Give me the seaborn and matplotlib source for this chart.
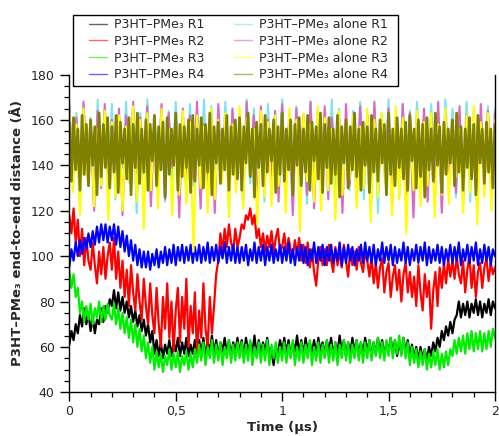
import numpy as np
import pandas as pd
import matplotlib
matplotlib.use("Agg")
import matplotlib.pyplot as plt
import seaborn as sns
from matplotlib.ticker import MultipleLocator, FixedLocator
from matplotlib.patches import Rectangle

# ---------------- data ----------------
# complex series, sampled every 0.01 us
r1_black = [
    61,67,63,70,66,74,69,77,70,75,67,73,66,72,70,77,71,78,75,81,
    78,85,77,84,76,82,75,80,73,78,71,76,69,74,67,72,65,70,62,67,
    57,63,56,62,55,61,57,63,56,62,58,64,56,62,57,64,56,61,57,63,
    56,63,57,64,56,62,58,65,57,63,56,62,58,64,57,63,56,62,58,64,
    57,63,56,64,58,62,57,65,56,63,57,62,58,64,56,58,52,60,57,63,
    58,64,57,63,56,62,58,65,57,63,56,64,58,62,57,63,56,64,58,62,
    57,63,58,64,56,62,57,65,58,63,56,62,57,64,58,63,56,62,57,64,
    58,63,56,62,57,64,58,63,56,62,58,64,57,63,56,62,57,64,58,63,
    56,61,55,60,54,60,55,59,54,60,56,62,58,64,60,67,63,69,65,71,
    66,72,74,80,73,79,74,80,73,79,75,81,74,80,73,79,75,81,74,80,
    77]
r2_red = [
    118,110,121,106,116,100,112,96,108,98,94,106,96,88,102,92,104,90,100,106,
    94,108,90,102,86,98,82,94,78,96,84,76,92,80,72,90,78,70,88,74,
    66,86,70,60,82,68,88,64,80,58,76,86,62,82,68,90,60,78,66,84,
    56,76,64,88,68,60,82,66,78,92,98,110,102,112,104,114,106,102,112,104,
    108,114,112,118,116,121,114,118,108,112,104,110,102,109,104,111,101,108,112,102,
    104,110,101,108,103,100,107,101,108,98,105,97,106,95,103,93,87,99,104,96,
    103,96,105,98,93,104,96,102,95,105,98,91,103,96,102,94,104,97,93,102,
    98,91,100,88,97,86,95,99,84,93,97,82,91,96,85,94,80,92,97,84,
    93,82,91,78,96,84,76,92,82,89,68,85,93,78,95,86,97,88,99,91,
    98,90,100,92,88,98,84,94,100,86,96,82,93,97,86,95,99,89,97,92,
    95]
r3_green = [
    94,86,92,82,86,75,80,71,78,72,79,70,77,73,80,71,78,72,79,74,
    72,79,70,77,68,75,66,73,64,72,62,70,60,68,58,65,55,62,53,60,
    50,58,51,57,49,56,52,59,50,57,51,58,49,56,52,58,50,57,51,59,
    53,61,54,62,52,60,55,63,53,61,54,62,52,60,55,63,53,61,54,62,
    55,62,53,61,54,63,52,60,55,62,53,61,54,63,52,61,55,62,53,60,
    54,62,53,61,55,63,52,60,54,62,53,61,55,63,52,60,54,62,53,61,
    55,63,53,61,54,62,52,61,55,63,54,62,53,61,55,63,54,62,53,62,
    55,63,54,62,56,64,55,62,54,63,56,64,55,63,57,65,56,64,55,62,
    52,60,53,59,51,58,52,59,50,57,51,58,52,59,50,57,51,58,52,59,
    56,63,57,64,58,65,57,66,59,67,58,66,59,67,58,66,59,67,60,68,
    64]
r4_blue = [
    95,103,98,106,100,107,101,108,103,110,104,111,105,113,106,114,107,114,106,113,
    107,114,105,113,104,111,102,109,100,107,98,105,96,103,95,102,95,102,94,101,
    96,103,95,102,97,104,96,103,97,105,96,104,98,105,97,104,98,105,97,104,
    98,105,97,104,98,106,97,104,98,105,97,104,99,106,97,104,98,105,97,104,
    97,104,98,105,96,103,98,106,97,104,98,105,96,104,98,105,97,103,98,105,
    97,104,98,106,97,103,96,104,98,105,97,104,96,103,98,106,97,104,98,105,
    96,104,98,105,97,103,98,106,96,104,97,105,98,104,96,103,98,105,97,106,
    98,104,97,105,96,103,98,106,97,104,98,105,96,104,97,103,98,106,97,104,
    96,103,98,105,97,104,98,106,96,104,97,103,98,105,97,104,96,103,98,105,
    97,104,98,106,96,103,98,105,97,104,98,106,96,103,97,105,98,104,96,103,
    100]

# polymer alone, sampled every 1/60 us
a1_cyan = [
    168,134,163,127,166,140,161,121,169,137,164,130,167,125,162,139,168,132,165,119,
    163,136,169,128,161,141,166,124,164,133,168,138,162,126,167,131,163,140,169,122,
    166,129,162,137,168,120,164,135,161,127,169,132,165,139,162,124,167,130,163,136,
    169,126,163,141,166,131,161,123,168,138,164,128,162,134,169,121,165,137,161,129,
    164,139,168,125,162,133,166,119,163,136,169,130,161,127,167,140,164,122,168,135,
    162,128,167,134,163,121,169,138,165,126,161,132,168,124,164,137,162,131,166,127,
    165]
a2_magenta = [
    166,132,161,124,168,138,159,120,164,130,167,127,160,136,165,118,162,133,168,126,
    161,137,166,122,159,131,167,125,163,139,160,117,165,129,162,134,168,121,158,128,
    164,119,167,135,161,126,165,131,159,123,168,137,162,120,166,129,160,133,164,124,
    167,130,160,118,165,136,162,127,168,121,159,134,166,125,161,138,164,119,167,131,
    160,126,166,133,162,120,168,129,159,135,165,122,161,131,167,127,163,117,160,136,
    165,124,161,132,168,119,163,137,160,128,166,123,162,135,159,121,167,130,164,126,
    163]
a3_yellow = [
    163,128,158,118,165,135,160,122,156,131,164,116,159,126,162,120,157,133,166,124,
    160,112,163,129,158,121,165,134,156,118,161,127,164,123,159,102,162,130,157,119,
    165,125,160,132,163,117,158,128,166,121,161,135,156,114,164,126,159,122,162,131,
    157,119,165,128,160,111,163,133,158,124,166,120,161,129,156,116,164,127,159,134,
    162,121,157,130,165,115,160,126,163,132,158,118,166,125,161,110,157,129,164,122,
    159,131,163,117,158,127,165,123,160,135,156,119,162,128,166,114,159,126,163,120,
    160]
# sampled every 0.01 us
a4_olive = [
    159,133,161,138,156,129,162,136,158,131,160,140,157,127,163,135,158,139,161,130,
    157,137,162,128,159,141,156,134,161,127,158,139,163,132,156,137,160,129,158,142,
    162,131,157,138,159,126,161,136,156,140,163,129,158,135,157,139,160,128,162,133,
    156,140,161,130,158,137,163,127,157,141,159,132,156,138,162,129,157,136,160,134,
    161,129,157,141,163,135,156,126,159,139,158,131,162,137,156,142,160,128,157,136,
    163,133,156,138,160,127,158,140,161,131,156,137,162,129,159,142,157,134,163,128,
    158,139,161,132,156,136,162,126,157,141,160,130,157,138,163,135,156,129,159,140,
    157,128,162,137,156,133,160,141,158,127,163,136,156,131,161,139,156,134,159,129,
    162,142,156,130,160,135,158,126,161,138,156,133,163,140,157,128,159,136,156,141,
    160,131,163,137,157,129,156,139,161,134,158,127,162,141,156,132,159,137,156,130,
    158]

labels = ["P3HT–PMe₃ R1", "P3HT–PMe₃ R2", "P3HT–PMe₃ R3", "P3HT–PMe₃ R4",
          "P3HT–PMe₃ alone R1", "P3HT–PMe₃ alone R2",
          "P3HT–PMe₃ alone R3", "P3HT–PMe₃ alone R4"]
series = [r1_black, r2_red, r3_green, r4_blue,
          a1_cyan, a2_magenta, a3_yellow, a4_olive]
colors = ["#000000", "#ff0000", "#00ee00", "#0000ff",
          "#80e4ea", "#dd66c8", "#ffff00", "#808000"]
widths = [1.6, 1.6, 1.6, 1.6, 1.5, 1.5, 1.5, 2.0]

xticks = [0, 0.5, 1, 1.5, 2]
xticklabels = ["0", "0,5", "1", "1,5", "2"]
yticks = [40, 60, 80, 100, 120, 140, 160, 180]

# ---------------- plot ----------------
sns.set_style("ticks")
plt.rcParams["font.family"] = ["DejaVu Sans"]

W, H = 499, 436
fig = plt.figure(figsize=(W / 100, H / 100), dpi=100)
ax = fig.add_axes([69.3 / W, 1 - 392.3 / H, (495 - 69.3) / W, (392.3 - 74.5) / H])

frames = []
for lab, vals in zip(labels, series):
    frames.append(pd.DataFrame({"time": np.linspace(0, 2, len(vals)),
                                "dist": vals, "run": lab}))
df = pd.concat(frames, ignore_index=True)

for lab, col, lw in zip(labels, colors, widths):
    sub = df[df["run"] == lab]
    sns.lineplot(data=sub, x="time", y="dist", color=col, lw=lw,
                 ax=ax, label=lab, estimator=None, sort=False)

ax.set_xlim(0, 2)
ax.set_ylim(40, 180)
ax.xaxis.set_major_locator(FixedLocator(xticks))
ax.set_xticklabels(xticklabels)
ax.xaxis.set_minor_locator(MultipleLocator(0.1))
ax.yaxis.set_major_locator(FixedLocator(yticks))
ax.yaxis.set_minor_locator(MultipleLocator(5))
ax.tick_params(axis="both", which="major", direction="out", length=6.5,
               width=1, labelsize=9, color="black")
ax.tick_params(axis="x", which="major", pad=3)
ax.tick_params(axis="y", which="major", pad=4)
ax.tick_params(axis="both", which="minor", direction="out", length=3.8,
               width=0.9, color="black")
ax.tick_params(right=False, top=False, which="both")

for s in ["left", "bottom", "right"]:
    ax.spines[s].set_color("black")
    ax.spines[s].set_linewidth(1.0)
ax.spines["top"].set_visible(False)

ax.set_xlabel("Time (µs)", fontsize=9.5, fontweight="bold", labelpad=2)
ax.set_ylabel("P3HT–PMe₃ end-to-end distance (Å)", fontsize=9.5,
              fontweight="bold", labelpad=5)

handles, labs = ax.get_legend_handles_labels()
ax.get_legend().remove()

# legend frame box
fig.patches.append(Rectangle((73 / W, 1 - 86 / H), (398 - 73) / W, (86 - 15) / H,
                             transform=fig.transFigure, facecolor="white",
                             edgecolor="black", linewidth=1.0, zorder=5))
leg = fig.legend(handles, labs, loc="upper left",
                 bbox_to_anchor=(89 / W, 1 - 18 / H),
                 ncol=2, fontsize=9, frameon=False, labelspacing=0.3,
                 columnspacing=2.4, handlelength=1.4, handletextpad=0.6,
                 borderpad=0.0, borderaxespad=0.0)
leg.set_zorder(6)
for h in leg.get_lines():
    h.set_linewidth(1.0)
    h.set_alpha(0.6)

fig.savefig("out.png", dpi=100)
